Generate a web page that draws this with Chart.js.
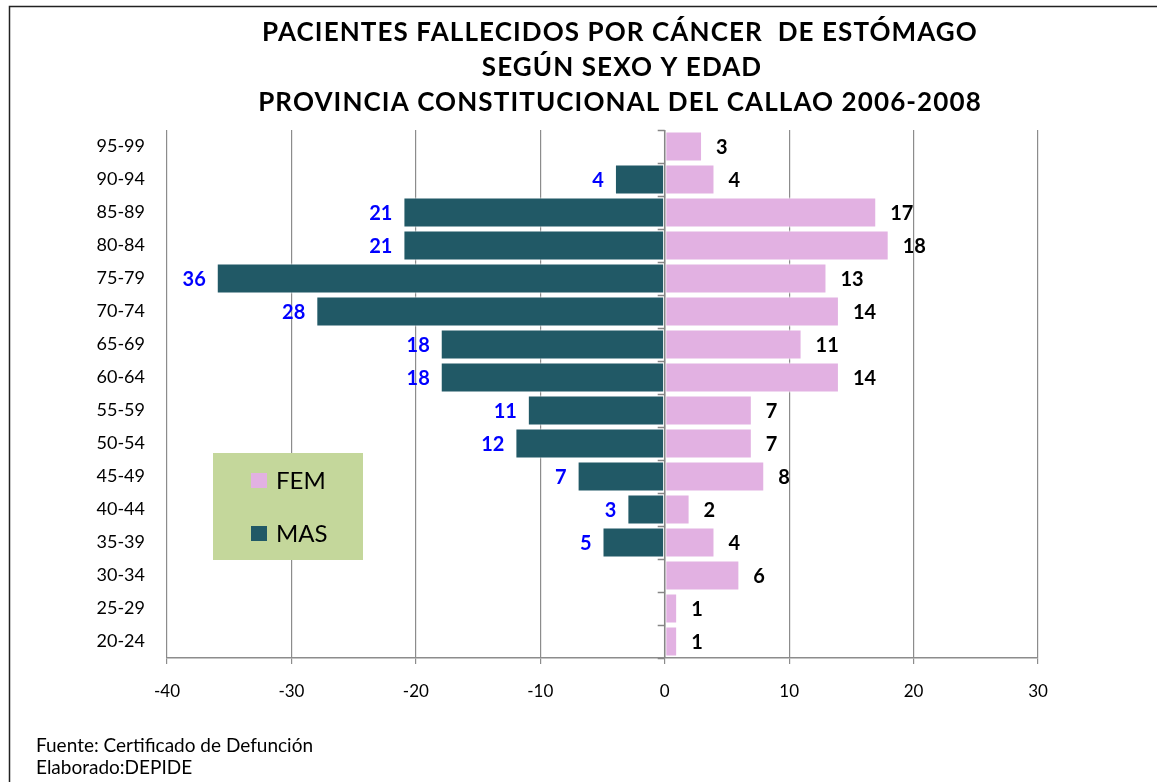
<!DOCTYPE html>
<html>
<head>
<meta charset="utf-8">
<script src="https://cdn.jsdelivr.net/npm/chart.js@4"></script>
<style>
html,body{margin:0;padding:0;background:#fff;}
#wrap{width:1157px;height:782px;position:relative;}
</style>
</head>
<body>
<div id="wrap"><canvas id="c" width="1157" height="782"></canvas></div>
<script>
const ageGroups = ['95-99','90-94','85-89','80-84','75-79','70-74','65-69','60-64','55-59','50-54','45-49','40-44','35-39','30-34','25-29','20-24'];
const femValues = [3,4,17,18,13,14,11,14,7,7,8,2,4,6,1,1];
const masValues = [0,4,21,21,36,28,18,18,11,12,7,3,5,0,0,0];
const xTicks = [-40,-30,-20,-10,0,10,20,30];
const titleLines = ['PACIENTES FALLECIDOS POR CÁNCER  DE ESTÓMAGO','SEGÚN SEXO Y EDAD','PROVINCIA CONSTITUCIONAL DEL CALLAO 2006-2008'];
const notes = ['Fuente: Certificado de Defunción','Elaborado:DEPIDE'];
const seriesNames = ['FEM','MAS'];

const FONT = 'Lato, "Open Sans", sans-serif';
const FEM_COLOR = '#e2b1e2';
const MAS_COLOR = '#215966';

const decor = {
  id: 'decor',
  beforeDraw(chart) {
    const ctx = chart.ctx;
    ctx.save();
    ctx.fillStyle = '#fff';
    ctx.fillRect(0, 0, chart.width, chart.height);
    ctx.strokeStyle = '#222';
    ctx.lineWidth = 1.5;
    ctx.beginPath();
    ctx.moveTo(9.5, chart.height + 5);
    ctx.lineTo(9.5, 6.5);
    ctx.lineTo(chart.width + 5, 6.5);
    ctx.stroke();
    ctx.restore();
  },
  afterDatasetsDraw(chart) {
    const ctx = chart.ctx;
    const xs = chart.scales.x, ys = chart.scales.y;
    const x0 = xs.getPixelForValue(0);
    ctx.save();
    ctx.strokeStyle = '#868686';
    ctx.lineWidth = 1.5;
    ctx.beginPath();
    ctx.moveTo(x0, chart.chartArea.top);
    ctx.lineTo(x0, chart.chartArea.bottom);
    for (let i = 0; i <= ageGroups.length; i++) {
      const y = Math.round(ys.getPixelForValue(i - 0.5)) + 0.5;
      ctx.moveTo(x0 - 7, y);
      ctx.lineTo(x0, y);
    }
    ctx.stroke();
    ctx.font = 'bold 20px ' + FONT;
    ctx.textBaseline = 'middle';
    ageGroups.forEach((g, i) => {
      const y = ys.getPixelForValue(i) + 1;
      if (femValues[i]) {
        ctx.fillStyle = '#000';
        ctx.textAlign = 'left';
        ctx.fillText(String(femValues[i]), xs.getPixelForValue(femValues[i]) + 14, y);
      }
      if (masValues[i]) {
        ctx.fillStyle = '#0000ff';
        ctx.textAlign = 'right';
        ctx.fillText(String(masValues[i]), xs.getPixelForValue(-masValues[i]) - 11, y);
      }
    });
    ctx.fillStyle = '#c4d79b';
    ctx.fillRect(213, 453, 150, 107);
    ctx.fillStyle = FEM_COLOR;
    ctx.fillRect(251, 473, 16, 15);
    ctx.fillStyle = MAS_COLOR;
    ctx.fillRect(251, 526, 16, 15);
    ctx.fillStyle = '#000';
    ctx.font = '24px ' + FONT;
    ctx.textAlign = 'left';
    ctx.fillText(seriesNames[0], 276, 481);
    ctx.fillText(seriesNames[1], 276, 534);
    ctx.font = 'bold 26px ' + FONT;
    ctx.textAlign = 'center';
    ctx.letterSpacing = '1.1px';
    ctx.fillText(titleLines[0], 620, 33);
    ctx.fillText(titleLines[1], 622, 68);
    ctx.fillText(titleLines[2], 620, 103);
    ctx.letterSpacing = '0px';
    ctx.font = '19px ' + FONT;
    ctx.textAlign = 'left';
    ctx.fillText(notes[0], 36, 746);
    ctx.fillText(notes[1], 36, 768);
    ctx.restore();
  }
};

new Chart(document.getElementById('c'), {
  type: 'bar',
  data: {
    labels: ageGroups,
    datasets: [
      { label: seriesNames[0], data: femValues, backgroundColor: FEM_COLOR, borderColor: '#ffffff', borderWidth: 1, borderSkipped: false },
      { label: seriesNames[1], data: masValues.map(v => -v), backgroundColor: MAS_COLOR, borderColor: '#ffffff', borderWidth: 1, borderSkipped: false }
    ]
  },
  options: {
    indexAxis: 'y',
    responsive: false,
    animation: false,
    devicePixelRatio: 1,
    layout: { padding: { left: 0, right: 119, top: 130, bottom: 0 } },
    plugins: { legend: { display: false }, tooltip: { enabled: false }, title: { display: false } },
    datasets: { bar: { barPercentage: 0.91, categoryPercentage: 1 } },
    scales: {
      x: {
        stacked: true,
        min: -40, max: 30,
        afterBuildTicks(scale) { scale.ticks = xTicks.map(v => ({ value: v })); },
        afterFit(scale) { scale.height = 782 - 658; },
        grid: { color: '#8c8c8c', lineWidth: 1.2, tickLength: 6, drawTicks: true },
        border: { color: '#8c8c8c', width: 1.5 },
        ticks: { color: '#000', font: { family: FONT, size: 17 }, padding: 17 }
      },
      y: {
        stacked: true,
        afterFit(scale) { scale.width = 167; },
        grid: { display: false, drawTicks: false },
        border: { display: false },
        ticks: { color: '#000', font: { family: FONT, size: 18 }, padding: 22 }
      }
    }
  },
  plugins: [decor]
});
</script>
</body>
</html>
